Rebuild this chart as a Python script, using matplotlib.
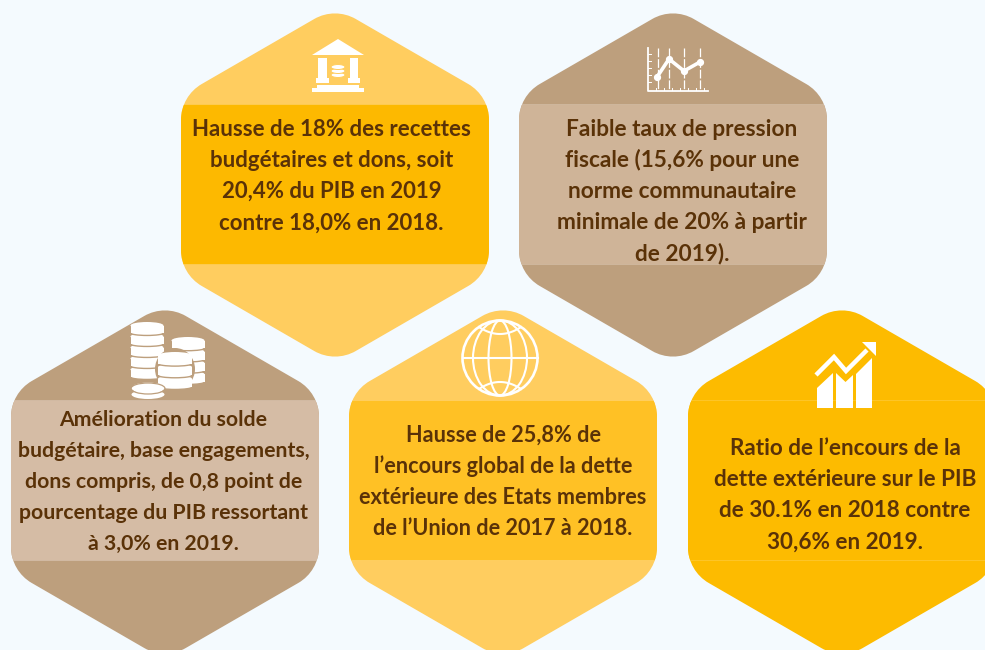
import numpy as np
import matplotlib
matplotlib.use("Agg")
import matplotlib.pyplot as plt
from matplotlib.path import Path
from matplotlib.patches import PathPatch, Rectangle, Circle, Ellipse, Polygon

BG = "#F4FAFE"
INK = "#5A3208"
FONT = "Lato"

texts = [
    "Hausse de 18% des recettes\nbudgétaires et dons, soit\n20,4% du PIB en 2019\ncontre 18,0% en 2018.",
    "Faible taux de pression\nfiscale (15,6% pour une\nnorme communautaire\nminimale de 20% à partir\nde 2019).",
    "Amélioration du solde\nbudgétaire, base engagements,\ndons compris, de 0,8 point de\npourcentage du PIB ressortant\nà 3,0% en 2019.",
    "Hausse de 25,8% de\nl’encours global de la dette\nextérieure des Etats membres\nde l’Union de 2017 à 2018.",
    "Ratio de l’encours de la\ndette extérieure sur le PIB\nde 30.1% en 2018 contre\n30,6% en 2019.",
]
centers_x = [335, 673, 165, 503, 842]
centers_y = [185, 185, 482, 482, 482]
band_top = [104, 104, 400, 400, 400]
band_bot = [264, 264, 560, 560, 560]
first_baseline = [136, 136, 426, 442, 455]
text_x = [331.5, 682, 163.5, 503, 845]
text_size = [16.0, 16.3, 15.3, 15.6, 16.2]
outer_colors = ["#FFCD5F", "#BD9F7D", "#BD9F7D", "#FFCD5F", "#FDBB00"]
band_colors = ["#FDB900", "#CFB498", "#D5BCA5", "#FFC125", "#FDBB00"]

R = 178
W = 154
LINE = 31.1


def rounded_hex(cx, cy, r=24):
    pts = np.array([(cx, cy - R), (cx + W, cy - R / 2), (cx + W, cy + R / 2),
                    (cx, cy + R), (cx - W, cy + R / 2), (cx - W, cy - R / 2)], float)
    verts, codes = [], []
    n = len(pts)
    cp = r - 0.357 * r * np.tan(np.radians(60))
    for i in range(n):
        p, a, b = pts[i], pts[i - 1], pts[(i + 1) % n]
        u = (a - p) / np.linalg.norm(a - p)
        v = (b - p) / np.linalg.norm(b - p)
        verts.append(tuple(p + u * r))
        codes.append(Path.MOVETO if i == 0 else Path.LINETO)
        verts += [tuple(p + u * cp), tuple(p + v * cp), tuple(p + v * r)]
        codes += [Path.CURVE4] * 3
    verts.append(verts[0])
    codes.append(Path.CLOSEPOLY)
    return Path(verts, codes)


fig = plt.figure(figsize=(9.85, 6.5), dpi=100, facecolor=BG)
ax = fig.add_axes([0, 0, 1, 1])
ax.set_xlim(0, 985)
ax.set_ylim(650, 0)
ax.axis("off")

for i in range(5):
    cx, cy = centers_x[i], centers_y[i]
    hexp = PathPatch(rounded_hex(cx, cy), fc=outer_colors[i], ec="none", zorder=1)
    ax.add_patch(hexp)
    band = Rectangle((cx - W - 2, band_top[i]), 2 * W + 4, band_bot[i] - band_top[i],
                     fc=band_colors[i], ec="#FFFFFF30", lw=0.6, zorder=2)
    ax.add_patch(band)
    band.set_clip_path(hexp)
    for k, line in enumerate(texts[i].split("\n")):
        ax.text(text_x[i], first_baseline[i] + LINE * k, line, ha="center", va="baseline",
                color=INK, family=FONT, weight="bold", fontsize=text_size[i], zorder=5)

W_ = "white"
Z = 4


def poly(points):
    ax.add_patch(Polygon(points, closed=True, fc=W_, ec="none", zorder=Z))


def rect(x0, y0, x1, y1):
    ax.add_patch(Rectangle((x0, y0), x1 - x0, y1 - y0, fc=W_, ec="none", zorder=Z))


# Bank icon
poly([(338, 39), (364, 55), (312, 55)])
rect(318, 58, 327, 80)
rect(350, 58, 358, 80)
rect(316, 78, 329, 83)
rect(348, 78, 360, 83)
rect(317, 85, 359, 88)
rect(312, 88, 364, 92)
for y in (75, 71, 67):
    ax.add_patch(Ellipse((338, y), 14, 5, fc=W_, ec=outer_colors[0], lw=0.7, zorder=Z))

# Line chart icon
ax.plot([648, 648, 708], [48, 90.5, 90.5], color=W_, lw=1.3, zorder=Z)
for x in (658, 669, 684, 700):
    ax.plot([x, x], [48, 89], color=W_, lw=0.9, dashes=(7, 1.5), zorder=Z)
for y in (54, 61, 68, 75, 82):
    ax.plot([648, 651], [y, y], color=W_, lw=0.7, zorder=Z)
for x in (656, 664, 672, 680, 688, 696, 704):
    ax.plot([x, x], [87.5, 90], color=W_, lw=0.7, zorder=Z)
ax.plot([657, 669, 684, 700], [77, 59, 71, 62], color=W_, lw=2.6, marker="o", ms=4.2, zorder=Z)


# Coins icon
coin_c = outer_colors[2]


def coin(cx, top, w, h, eh=7):
    ax.add_patch(Ellipse((cx, top + h), w, eh * 0.7, fc=W_, ec=coin_c, lw=1.0, zorder=Z))
    ax.add_patch(Rectangle((cx - w / 2, top), w, h, fc=W_, ec="none", zorder=Z))
    ax.add_patch(Ellipse((cx, top), w, eh, fc=W_, ec="none", zorder=Z))


def stack(cx, bottom, top, count, w):
    step = (bottom - top) / count
    for j in range(count - 1, -1, -1):
        coin(cx, top + 3.5 + j * step, w, step - 3.5)


stack(147, 377, 322, 5, 33)
stack(188, 382, 337, 4, 33)
ax.add_patch(Ellipse((175, 369), 40, 42, fc=coin_c, ec="none", zorder=Z))
stack(175, 387, 352, 3, 34)
ax.add_patch(Ellipse((148, 388), 33, 11, fc=W_, ec="none", zorder=Z))
ax.add_patch(Ellipse((148, 394.5), 33, 9, fc=W_, ec="none", zorder=Z - 0.1))
ax.add_patch(Ellipse((148, 388.5), 34, 11, fc="none", ec=coin_c, lw=0.9, zorder=Z))

# Globe icon
gx, gy, gr = 500, 358, 37.5
lw = 1.5
ax.add_patch(Circle((gx, gy), gr, fc="none", ec=W_, lw=lw + 0.4, zorder=Z))
for half in (11.5, 27):
    ax.add_patch(Ellipse((gx, gy), 2 * half, 2 * gr, fc="none", ec=W_, lw=lw, zorder=Z))
ax.plot([gx - gr, gx + gr], [gy, gy], color=W_, lw=lw, zorder=Z)
t = np.linspace(-1, 1, 40)
for sign in (-1, 1):
    ax.plot(gx + t * 21, gy + sign * (31 - 7 * (1 - t ** 2)), color=W_, lw=lw, zorder=Z)

# Growth icon
poly([(817, 388), (833, 373), (833, 408), (817, 408)])
poly([(836, 373), (845.5, 382), (853, 375), (853, 408), (836, 408)])
poly([(856, 374), (872, 358), (872, 408), (856, 408)])
ax.plot([816, 834, 846, 867], [375, 357, 371, 350], color=W_, lw=3.2,
        solid_capstyle="butt", solid_joinstyle="miter", zorder=Z)
poly([(876, 342), (876, 356), (862, 342)])

fig.savefig("out.png", dpi=100, facecolor=BG)
